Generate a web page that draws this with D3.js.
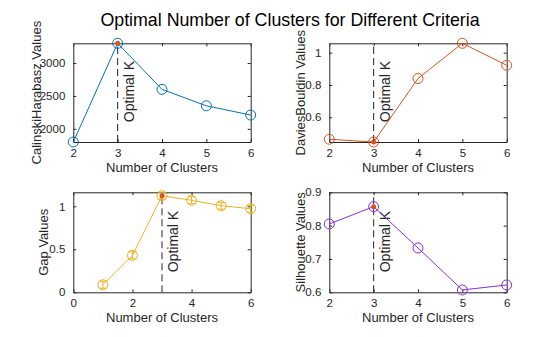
<!DOCTYPE html>
<html>
<head>
<meta charset="utf-8">
<script src="https://cdn.jsdelivr.net/npm/d3@7"></script>
<style>
  body { margin: 0; background: #fff; }
  text { font-family: "Liberation Sans", Arial, Helvetica, sans-serif; }
</style>
</head>
<body>
<div id="chart"></div>
<script>
// cluster-count evaluation results
const kValues = [2, 3, 4, 5, 6];
const calinskiValues = [1800, 3300, 2600, 2350, 2210];
const daviesValues = [0.464, 0.447, 0.84, 1.058, 0.922];
const gapK = [1, 2, 3, 4, 5, 6];
const gapValues = [0.088, 0.43, 1.123, 1.07, 1.007, 0.972];
const gapErr = [0.04, 0.04, 0.04, 0.04, 0.04, 0.04];
const silhouetteValues = [0.805, 0.857, 0.733, 0.607, 0.622];
const optimalK = 3;

const width = 560, height = 337;
const ink = "#262626";

var svg = d3.select("#chart")
  .append("svg")
    .attr("width", width)
    .attr("height", height);

svg.append("text")
    .attr("x", 290)
    .attr("y", 26)
    .attr("text-anchor", "middle")
    .style("font-size", "17.8px")
    .style("fill", "#000")
    .text("Optimal Number of Clusters for Different Criteria");

var panels = [
  {x0: 73.3, x1: 250.7, y0: 43.3, y1: 142, ks: kValues, vals: calinskiValues,
   xDomain: [2, 6], xTicks: [2, 3, 4, 5, 6], yDomain: [1800, 3300], yTicks: [2000, 2500, 3000],
   color: "#0072BD", ylabel: "CalinskiHarabasz Values", ylabelX: 36},
  {x0: 329.3, x1: 506.7, y0: 43.3, y1: 142, ks: kValues, vals: daviesValues,
   xDomain: [2, 6], xTicks: [2, 3, 4, 5, 6], yDomain: [0.447, 1.058], yTicks: [0.6, 0.8, 1],
   color: "#D95319", ylabel: "DaviesBouldin Values", ylabelX: 300},
  {x0: 73.3, x1: 250.7, y0: 192.3, y1: 292.3, ks: gapK, vals: gapValues, err: gapErr,
   xDomain: [0, 6], xTicks: [0, 2, 4, 6], yDomain: [0, 1.163], yTicks: [0, 0.5, 1],
   color: "#EDB120", ylabel: "Gap Values", ylabelX: 43},
  {x0: 329.3, x1: 506.7, y0: 192.3, y1: 292.3, ks: kValues, vals: silhouetteValues,
   xDomain: [2, 6], xTicks: [2, 3, 4, 5, 6], yDomain: [0.6, 0.9], yTicks: [0.6, 0.7, 0.8, 0.9],
   color: "#8A2BE2", ylabel: "Silhouette Values", ylabelX: 300}
];

panels.forEach(function(p) {
  var x = d3.scaleLinear().domain(p.xDomain).range([p.x0, p.x1]);
  var y = d3.scaleLinear().domain(p.yDomain).range([p.y1, p.y0]);
  var g = svg.append("g");
  var tl = 3;

  // box with inward ticks on all four sides
  g.append("g").attr("transform", "translate(0," + p.y1 + ")")
    .call(d3.axisBottom(x).tickValues(p.xTicks).tickSizeInner(-tl).tickSizeOuter(0).tickPadding(4 + tl).tickFormat(d3.format("")));
  g.append("g").attr("transform", "translate(0," + p.y0 + ")")
    .call(d3.axisTop(x).tickValues(p.xTicks).tickSizeInner(-tl).tickSizeOuter(0).tickFormat(""));
  g.append("g").attr("transform", "translate(" + p.x0 + ",0)")
    .call(d3.axisLeft(y).tickValues(p.yTicks).tickSizeInner(-tl).tickSizeOuter(0).tickPadding(5 + tl).tickFormat(d3.format("")));
  g.append("g").attr("transform", "translate(" + p.x1 + ",0)")
    .call(d3.axisRight(y).tickValues(p.yTicks).tickSizeInner(-tl).tickSizeOuter(0).tickFormat(""));
  g.selectAll(".domain").attr("stroke", ink).attr("stroke-width", 1);
  g.selectAll(".tick line").attr("stroke", ink);
  g.selectAll(".tick text").style("font-size", "11.5px").style("fill", ink)
    .attr("font-family", null);

  // optimal k marker line
  g.append("line")
    .attr("x1", x(optimalK)).attr("x2", x(optimalK))
    .attr("y1", p.y1).attr("y2", p.y0)
    .attr("stroke", ink).attr("stroke-width", 1)
    .attr("stroke-dasharray", "7,4");

  g.append("text")
    .attr("transform", "translate(" + (x(optimalK) + 16) + "," + (p.y1 - 0.2 * (p.y1 - p.y0)) + ") rotate(-90)")
    .style("font-size", "14px")
    .style("fill", ink)
    .text("Optimal K");

  var pts = p.ks.map(function(k, i) { return {k: k, v: p.vals[i], e: p.err ? p.err[i] : 0}; });

  g.append("path")
    .datum(pts)
    .attr("fill", "none")
    .attr("stroke", p.color)
    .attr("stroke-width", 1)
    .attr("d", d3.line().x(function(d) { return x(d.k); }).y(function(d) { return y(d.v); }));

  if (p.err) {
    var eb = g.selectAll(".eb").data(pts).enter().append("g")
      .attr("stroke", p.color).attr("stroke-width", 1);
    eb.append("line")
      .attr("x1", function(d) { return x(d.k); }).attr("x2", function(d) { return x(d.k); })
      .attr("y1", function(d) { return y(d.v - d.e); }).attr("y2", function(d) { return y(d.v + d.e); });
    [-1, 1].forEach(function(s) {
      eb.append("line")
        .attr("x1", function(d) { return x(d.k) - 4; }).attr("x2", function(d) { return x(d.k) + 4; })
        .attr("y1", function(d) { return y(d.v + s * d.e); }).attr("y2", function(d) { return y(d.v + s * d.e); });
    });
  }

  g.selectAll(".mk").data(pts).enter().append("circle")
    .attr("cx", function(d) { return x(d.k); })
    .attr("cy", function(d) { return y(d.v); })
    .attr("r", 5)
    .attr("fill", "none")
    .attr("stroke", p.color)
    .attr("stroke-width", 1);

  var best = pts.filter(function(d) { return d.k === optimalK; });
  g.selectAll(".best").data(best).enter().append("circle")
    .attr("cx", function(d) { return x(d.k); })
    .attr("cy", function(d) { return y(d.v); })
    .attr("r", 2.5)
    .attr("fill", "#D95319");

  g.append("text")
    .attr("x", (p.x0 + p.x1) / 2)
    .attr("y", p.y1 + 30)
    .attr("text-anchor", "middle")
    .style("font-size", "13px")
    .style("fill", ink)
    .text("Number of Clusters");

  g.append("text")
    .attr("transform", "translate(" + p.ylabelX + "," + (p.y0 + p.y1) / 2 + ") rotate(-90)")
    .attr("text-anchor", "middle")
    .attr("dy", "0.35em")
    .style("font-size", "13px")
    .style("fill", ink)
    .text(p.ylabel);
});
</script>
</body>
</html>
